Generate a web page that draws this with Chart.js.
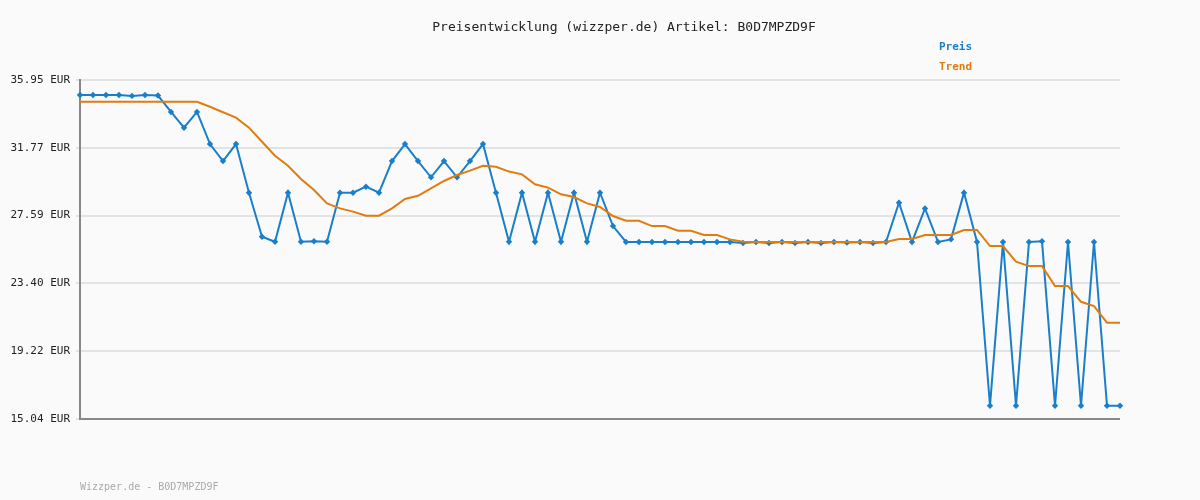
<!DOCTYPE html>
<html><head><meta charset="utf-8">
<script src="https://cdn.jsdelivr.net/npm/chart.js@4/dist/chart.umd.min.js"></script>
<style>html,body{margin:0;padding:0;background:#fafafa}#w{width:1200px;height:500px}</style>
</head><body><div id="w"><canvas id="c"></canvas></div>
<script>
const preis = [35.02,35.02,35.02,35.02,34.97,35.02,34.99,33.98,33.01,33.98,32.0,30.95,32.0,29.0,26.28,25.97,29.0,25.97,26.0,25.97,
29.0,29.0,29.37,29.0,30.95,32.0,30.95,29.95,30.95,29.95,30.95,32.0,29.0,25.97,29.0,25.97,29.0,25.97,29.0,25.97,
29.0,26.94,25.96,25.96,25.96,25.96,25.96,25.96,25.96,25.96,25.96,25.9,25.96,25.9,25.96,25.9,25.96,25.9,25.96,25.93,
25.96,25.9,25.96,28.38,25.96,28.03,25.96,26.12,29.0,25.96,15.86,25.96,15.86,25.96,26.0,15.86,25.96,15.86,25.96,15.86,15.86];
const trend = [34.61,34.61,34.61,34.61,34.61,34.61,34.61,34.61,34.61,34.61,34.3,33.96,33.63,33.01,32.14,31.28,30.66,29.84,29.16,28.34,
28.03,27.83,27.58,27.58,28.03,28.61,28.81,29.27,29.72,30.09,30.36,30.66,30.6,30.3,30.13,29.52,29.31,28.9,28.73,28.34,
28.12,27.56,27.27,27.27,26.94,26.94,26.65,26.65,26.39,26.39,26.12,25.97,25.96,25.96,25.96,25.96,25.96,25.96,25.96,25.96,
25.96,25.96,25.96,26.14,26.14,26.39,26.39,26.39,26.7,26.7,25.71,25.71,24.74,24.47,24.47,23.24,23.24,22.27,22.0,20.98,20.98];
const yTicks = [15.04,19.22,23.40,27.59,31.77,35.95];
const labels = preis.map((_, i) => String(i + 1));
const titleText = "Preisentwicklung (wizzper.de) Artikel: B0D7MPZD9F";
const footerText = "Wizzper.de - B0D7MPZD9F";
const mono = "'DejaVu Sans Mono', monospace";

const textPlugin = {
  id: 'texts',
  afterDraw(chart) {
    const ctx = chart.ctx, a = chart.chartArea;
    ctx.save();
    ctx.strokeStyle = '#888'; ctx.lineWidth = 2;
    ctx.beginPath(); ctx.moveTo(a.left, a.bottom); ctx.lineTo(a.right, a.bottom); ctx.stroke();
    ctx.font = '13px ' + mono; ctx.fillStyle = '#222'; ctx.textAlign = 'center'; ctx.textBaseline = 'middle';
    ctx.fillText(titleText, 624, 28);
    ctx.textAlign = 'left'; ctx.font = 'bold 11px ' + mono;
    ctx.fillStyle = '#1a7fc9'; ctx.fillText('Preis', 939, 47);
    ctx.fillStyle = '#e07c10'; ctx.fillText('Trend', 939, 67);
    ctx.font = '10px ' + mono; ctx.fillStyle = '#aaa';
    ctx.fillText(footerText, 80, 487);
    ctx.restore();
  }
};

new Chart(document.getElementById('c'), {
  type: 'line',
  data: { labels, datasets: [
    { label: 'Trend', data: trend, borderColor: '#e07c10', borderWidth: 2, pointRadius: 0, tension: 0 },
    { label: 'Preis', data: preis, borderColor: '#1a7fc9', backgroundColor: '#1a7fc9', borderWidth: 2,
      pointRadius: 1.8, pointStyle: 'rectRot', tension: 0 }
  ]},
  options: {
    responsive: true, maintainAspectRatio: false, animation: false,
    layout: { padding: { left: 0, right: 80, top: 80, bottom: 81 } },
    plugins: { legend: { display: false }, title: { display: false }, tooltip: { enabled: false } },
    scales: {
      x: { display: false, offset: false },
      y: {
        min: 15.04, max: 35.95,
        afterFit(s) { s.width = 80; },
        afterBuildTicks(s) { s.ticks = yTicks.map(v => ({ value: v })); },
        ticks: { color: '#222', font: { family: mono, size: 11 }, padding: 6,
          callback: v => Number(v).toFixed(2) + ' EUR' },
        grid: { color: '#e3e3e3', lineWidth: 2, drawTicks: true, tickLength: 4 },
        border: { display: true, color: '#888', width: 2 }
      }
    }
  },
  plugins: [textPlugin]
});
</script></body></html>
